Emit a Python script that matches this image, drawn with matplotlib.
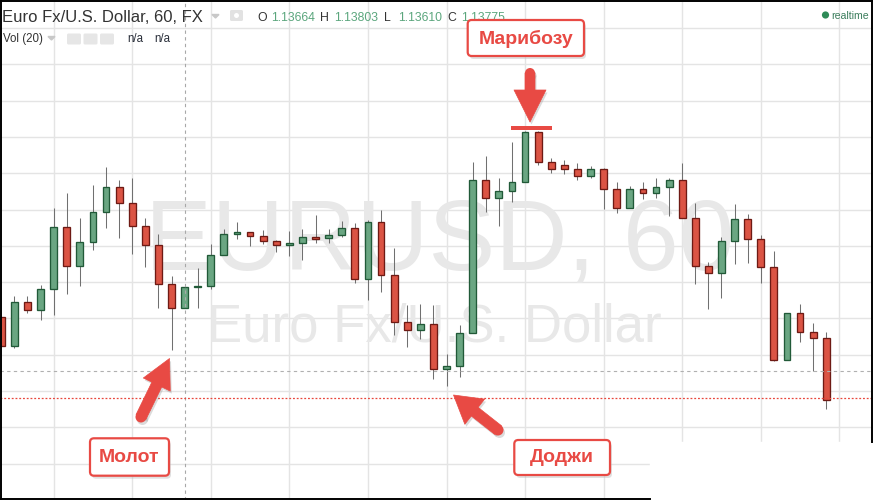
import matplotlib
matplotlib.use("Agg")
import matplotlib.pyplot as plt
from matplotlib.patches import FancyBboxPatch, FancyArrow, Circle, Rectangle, Polygon
from matplotlib.transforms import Affine2D
from matplotlib.lines import Line2D
import numpy as np

# ---------------- data (EUR/USD, 60 min) ----------------
opens = [1.13205, 1.13123, 1.13246, 1.13224, 1.13281, 1.13451, 1.13344, 1.13410, 1.13492, 1.13563,
         1.13519, 1.13456, 1.13402, 1.13295, 1.13230, 1.13287, 1.13290, 1.13374, 1.13433, 1.13437,
         1.13426, 1.13413, 1.13402, 1.13407, 1.13424, 1.13421, 1.13429, 1.13448, 1.13309, 1.13467,
         1.13320, 1.13191, 1.13167, 1.13186, 1.13060, 1.13068, 1.13161, 1.13582, 1.13533, 1.13552,
         1.13577, 1.13713, 1.13631, 1.13623, 1.13612, 1.13593, 1.13612, 1.13557, 1.13505, 1.13557,
         1.13546, 1.13563, 1.13582, 1.13478, 1.13344, 1.13325, 1.13413, 1.13475, 1.13418, 1.13342,
         1.13085, 1.13216, 1.13164, 1.13145]
highs = [1.13208, 1.13263, 1.13263, 1.13293, 1.13505, 1.13547, 1.13478, 1.13569, 1.13616, 1.13582,
         1.13588, 1.13478, 1.13434, 1.13318, 1.13287, 1.13340, 1.13406, 1.13446, 1.13465, 1.13437,
         1.13443, 1.13416, 1.13441, 1.13446, 1.13484, 1.13446, 1.13468, 1.13462, 1.13471, 1.13498,
         1.13394, 1.13236, 1.13239, 1.13236, 1.13102, 1.13183, 1.13632, 1.13648, 1.13588, 1.13687,
         1.13716, 1.13716, 1.13642, 1.13637, 1.13629, 1.13621, 1.13615, 1.13577, 1.13566, 1.13575,
         1.13588, 1.13588, 1.13629, 1.13519, 1.13356, 1.13424, 1.13514, 1.13487, 1.13430, 1.13386,
         1.13216, 1.13241, 1.13187, 1.13164]
lows = [1.13120, 1.13120, 1.13215, 1.13196, 1.13209, 1.13267, 1.13289, 1.13388, 1.13448, 1.13422,
        1.13379, 1.13343, 1.13228, 1.13114, 1.13230, 1.13229, 1.13280, 1.13374, 1.13418, 1.13401,
        1.13406, 1.13384, 1.13373, 1.13360, 1.13409, 1.13409, 1.13424, 1.13297, 1.13250, 1.13272,
        1.13155, 1.13122, 1.13144, 1.13034, 1.13013, 1.13040, 1.13161, 1.13493, 1.13455, 1.13521,
        1.13577, 1.13623, 1.13601, 1.13598, 1.13581, 1.13586, 1.13502, 1.13491, 1.13503, 1.13529,
        1.13532, 1.13483, 1.13478, 1.13294, 1.13226, 1.13256, 1.13349, 1.13354, 1.13297, 1.13082,
        1.13085, 1.13135, 1.13055, 1.12950]
closes = [1.13123, 1.13246, 1.13224, 1.13281, 1.13451, 1.13344, 1.13410, 1.13492, 1.13563, 1.13519,
          1.13456, 1.13402, 1.13295, 1.13230, 1.13287, 1.13290, 1.13374, 1.13434, 1.13437, 1.13426,
          1.13413, 1.13402, 1.13407, 1.13424, 1.13420, 1.13429, 1.13448, 1.13309, 1.13467, 1.13320,
          1.13191, 1.13167, 1.13186, 1.13060, 1.13068, 1.13161, 1.13582, 1.13533, 1.13552, 1.13577,
          1.13713, 1.13631, 1.13612, 1.13612, 1.13593, 1.13612, 1.13557, 1.13505, 1.13557, 1.13546,
          1.13563, 1.13582, 1.13478, 1.13344, 1.13325, 1.13413, 1.13475, 1.13418, 1.13342, 1.13085,
          1.13216, 1.13164, 1.13145, 1.12975]

crosshair_bar = 14
crosshair_price = 1.13055
last_price = 1.12980

title_text = "Euro Fx/U.S. Dollar, 60, FX"
ohlc_labels = ["O", "H", "L", "C"]
ohlc_values = ["1.13664", "1.13803", "1.13610", "1.13775"]
watermark_big = "EURUSD, 60"
watermark_small = "Euro Fx/U.S. Dollar"
pattern_labels = ["Марибозу", "Молот", "Доджи"]

# ---------------- figure ----------------
W, H = 873, 500
fig = plt.figure(figsize=(W / 100, H / 100), dpi=100)
fig.patch.set_facecolor("white")
ax = fig.add_axes([0, 0, 1, 1])
ax.set_facecolor("white")
ax.set_xlim(-0.099, 66.57)
ax.set_ylim(1.127112, 1.140773)
for s in ax.spines.values():
    s.set_visible(False)
ax.set_yticks(np.round(np.arange(1.127, 1.1405, 0.001), 3))
ax.set_xticks(np.arange(4, 66, 6))
ax.tick_params(length=0, labelleft=False, labelbottom=False)
ax.set_axisbelow(True)
ax.grid(True, color="#e4e4e4", lw=1.0)

pix = Affine2D().scale(1 / W, -1 / H).translate(0, 1) + fig.transFigure

FONT = "Liberation Sans"
RED = "#e84a44"

# watermark
ax.text(145, 270, watermark_big, transform=pix, fontsize=72, color="#e8e8e8",
        family=FONT, ha="left", va="baseline", zorder=0.8)
ax.text(207, 341.7, watermark_small, transform=pix, fontsize=38, color="#e8e8e8",
        family=FONT, ha="left", va="baseline", zorder=0.8)

# candles
x = np.arange(len(opens))
o = np.array(opens); c = np.array(closes); h = np.array(highs); l = np.array(lows)
up = c >= o
ax.vlines(x, l, h, color="#707070", lw=0.75, zorder=2)
bottoms = np.minimum(o, c)
heights = np.maximum(np.abs(c - o), 0.00002)
ax.bar(x[up], heights[up], bottom=bottoms[up], width=0.52, color="#6aa682",
       edgecolor="#215a38", lw=0.95, zorder=3)
ax.bar(x[~up], heights[~up], bottom=bottoms[~up], width=0.52, color="#db5444",
       edgecolor="#6e1a14", lw=0.95, zorder=3)

# crosshair and price line
ax.axvline(crosshair_bar, color="#a8a8a8", lw=0.8, ls=(0, (3, 3)), zorder=4)
ax.axhline(crosshair_price, color="#b0b0b0", lw=0.8, ls=(0, (3, 3)), zorder=4)
ax.axhline(last_price, color="#e8473c", lw=0.9, ls=(0, (1.5, 1.5)), zorder=4)

# white cut at bottom-right and frame
ax.add_patch(Rectangle((650, 442), 230, 60, transform=pix, color="white", zorder=5, clip_on=False))
for (xa, ya, xb, yb) in [(0, 0.5, 873, 0.5), (0.5, 0, 0.5, 499), (872, 0, 872, 442), (0, 499, 650, 499)]:
    ax.add_line(Line2D([xa, xb], [ya, yb], transform=pix, color="black", lw=1.4, zorder=9, clip_on=False))

# ---------------- header ----------------
ax.text(2, 21.7, title_text, transform=pix, fontsize=12.0, color="#333333",
        family=FONT, ha="left", va="baseline", zorder=7)
ax.add_patch(Polygon([(212, 14.5), (219, 14.5), (215.5, 18)], closed=True, transform=pix,
                     color="#c8c8c8", zorder=7, clip_on=False))
ax.add_patch(FancyBboxPatch((230, 10), 13, 11, boxstyle="round,pad=0,rounding_size=1.5",
                            transform=pix, fc="#e2e2e2", ec="none", zorder=7, clip_on=False))
ax.add_patch(Circle((236.5, 15.5), 2.5, transform=pix, fc="white", ec="none", zorder=7.5, clip_on=False))

ox = [257, 320, 384, 447]
vx = [271.5, 334, 398, 460.7]
for lab, val, a, b in zip(ohlc_labels, ohlc_values, ox, vx):
    ax.text(a, 20.7, lab, transform=pix, fontsize=8.8, color="#333333", family=FONT,
            ha="left", va="baseline", zorder=7)
    ax.text(b, 20.7, val, transform=pix, fontsize=8.8, color="#5ba67d", family=FONT,
            ha="left", va="baseline", zorder=7)

ax.text(3, 41.7, "Vol (20)", transform=pix, fontsize=8.3, color="#333333", family=FONT,
        ha="left", va="baseline", zorder=7)
ax.add_patch(Polygon([(48, 36.5), (55, 36.5), (51.5, 40)], closed=True, transform=pix,
                     color="#c8c8c8", zorder=7, clip_on=False))
for bx in [67, 83.5, 100]:
    ax.add_patch(FancyBboxPatch((bx, 33.5), 14, 11, boxstyle="round,pad=0,rounding_size=1.5",
                                transform=pix, fc="#e6e6e6", ec="none", zorder=7, clip_on=False))
ax.text(127.7, 41.7, "n/a", transform=pix, fontsize=8.3, color="#2a2f3a", family=FONT,
        ha="left", va="baseline", zorder=7)
ax.text(154, 41.7, "n/a", transform=pix, fontsize=8.3, color="#2a2f3a", family=FONT,
        ha="left", va="baseline", zorder=7)

ax.add_patch(Circle((825.5, 15), 3.6, transform=pix, fc="#2e8b57", ec="none", zorder=7, clip_on=False))
ax.text(831.5, 19, "realtime", transform=pix, fontsize=7.6, color="#3b7d5c", family=FONT,
        ha="left", va="baseline", zorder=7)

# ---------------- annotations ----------------
def label_box(x0, y0, w, hgt, text):
    ax.add_patch(FancyBboxPatch((x0 + 2, y0 + 3), w, hgt, boxstyle="round,pad=0,rounding_size=4",
                                transform=pix, fc="#bbbbbb", ec="none", alpha=0.45, zorder=10, clip_on=False))
    ax.add_patch(FancyBboxPatch((x0, y0), w, hgt, boxstyle="round,pad=0,rounding_size=4",
                                transform=pix, fc="white", ec=RED, lw=1.6, zorder=11, clip_on=False))
    ax.text(x0 + w / 2, y0 + hgt / 2 + 0.5, text, transform=pix, fontsize=14, fontweight="bold",
            color=RED, family=FONT, ha="center", va="center", zorder=12)


def arrow(xt, yt, xh, yh, width, hw, hl):
    dx, dy = xh - xt, yh - yt
    sh = FancyArrow(xt + 1.5, yt + 2.5, dx, dy, width=width, head_width=hw, head_length=hl,
                    length_includes_head=True, transform=pix, fc="#999999", ec="none",
                    alpha=0.35, zorder=10, clip_on=False)
    ax.add_patch(sh)
    ax.add_patch(Circle((xt + 1.5, yt + 2.5), width / 2, transform=pix, fc="#999999", ec="none",
                        alpha=0.35, zorder=10, clip_on=False))
    ax.add_patch(FancyArrow(xt, yt, dx, dy, width=width, head_width=hw, head_length=hl,
                            length_includes_head=True, transform=pix, fc=RED, ec=RED, lw=0.5,
                            joinstyle="round", zorder=11, clip_on=False))
    ax.add_patch(Circle((xt, yt), width / 2, transform=pix, fc=RED, ec="none", zorder=11, clip_on=False))

label_box(467.7, 20, 116.3, 36, pattern_labels[0])
arrow(530, 73, 530, 122, 10, 32, 32)
ax.add_patch(Rectangle((511, 125.7), 40.7, 4.6, transform=pix, fc=RED, ec="none", zorder=11, clip_on=False))

label_box(90, 438.3, 79, 37.4, pattern_labels[1])
arrow(141, 417, 169.5, 358.5, 11, 30, 29)

label_box(514.3, 440, 95.7, 35, pattern_labels[2])
arrow(498, 430, 453.5, 395, 11, 32, 27)

fig.savefig("out.png", dpi=100, facecolor="white")
